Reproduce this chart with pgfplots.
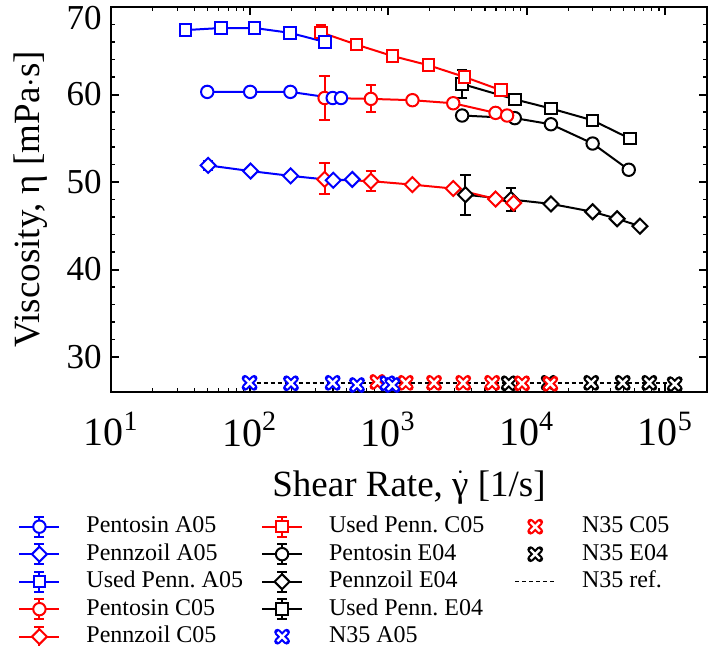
\documentclass[border=0pt]{standalone}
\usepackage{pgfplots}
\pgfplotsset{compat=1.18}
\usepackage{fontspec}
\setmainfont{Liberation Serif}
\frenchspacing

\pgfdeclareplotmark{fatx}{%
  \pgfscope
  \pgfsetroundcap
  \pgfsetlinewidth{3.3pt}%
  \pgfpathmoveto{\pgfqpoint{-0.5\pgfplotmarksize}{-0.5\pgfplotmarksize}}%
  \pgfpathlineto{\pgfqpoint{0.5\pgfplotmarksize}{0.5\pgfplotmarksize}}%
  \pgfpathmoveto{\pgfqpoint{-0.5\pgfplotmarksize}{0.5\pgfplotmarksize}}%
  \pgfpathlineto{\pgfqpoint{0.5\pgfplotmarksize}{-0.5\pgfplotmarksize}}%
  \pgfusepathqstroke
  \pgfsetbuttcap
  \pgfsetlinewidth{1.2pt}%
  \pgfsetstrokecolor{white}%
  \pgfpathmoveto{\pgfqpoint{-0.5\pgfplotmarksize}{-0.5\pgfplotmarksize}}%
  \pgfpathlineto{\pgfqpoint{0.5\pgfplotmarksize}{0.5\pgfplotmarksize}}%
  \pgfpathmoveto{\pgfqpoint{-0.5\pgfplotmarksize}{0.5\pgfplotmarksize}}%
  \pgfpathlineto{\pgfqpoint{0.5\pgfplotmarksize}{-0.5\pgfplotmarksize}}%
  \pgfusepathqstroke
  \endpgfscope
}

\pgfplotsset{
  ser/.style={color=#1, line width=1pt, mark options={solid, fill=white, line width=1pt}},
  circ/.style={mark=*, mark size=3.1pt},
  sqr/.style={mark=square*, mark size=2.9pt},
  dia/.style={mark=square*, mark size=2.65pt, mark options={solid, fill=white, line width=1pt, rotate=45}},
  errb/.style={color=#1, forget plot, only marks, mark=none, error bars/.cd, y dir=both, y explicit, error bar style={line width=1pt}, error mark=-, error mark options={rotate=90, line width=1pt, mark size=2.6pt}},
  nx/.style={color=#1, only marks, mark=fatx, mark size=4.6pt},
  errleg/.style={legend image code/.code={
      \draw[##1] (0pt,0pt) -- (20pt,0pt);
      \draw[##1] (10pt,-5pt) -- (10pt,5pt) (7.5pt,5pt) -- (12.5pt,5pt) (7.5pt,-5pt) -- (12.5pt,-5pt);
      \draw[##1] plot coordinates {(10pt,0pt)};
  }},
  nxleg/.style={legend image code/.code={\draw[##1] plot coordinates {(10pt,0pt)};}},
  lineleg/.style={legend image code/.code={\draw[##1] (0pt,0pt) -- (20pt,0pt);}},
}

\begin{document}
\begin{tikzpicture}
\begin{axis}[
  name=ax,
  scale only axis, width=298pt, height=192.5pt,
  xmode=log, xmin=10, xmax=2e5, ymin=26, ymax=70,
  xtick={10,100,1000,10000,100000},
  xticklabels={10\textsuperscript{1},10\textsuperscript{2},10\textsuperscript{3},10\textsuperscript{4},10\textsuperscript{5}},
  ytick={30,40,50,60,70},
  yticklabels={30,40,50,60,\raisebox{-11pt}[0pt][0pt]{70}},
  minor y tick num=4,
  xticklabel style={font=\fontsize{20}{24}\selectfont, inner sep=2pt, yshift=-8pt},
  yticklabel style={font=\fontsize{17.5}{21}\selectfont, inner sep=2pt, xshift=-2.5pt},
  axis line style={line width=1pt},
  major tick style={line width=1pt, black},
  minor tick style={line width=0.6pt, black},
  major tick length=4pt, minor tick length=2pt,
  xlabel={Shear Rate, \ensuremath{\dot{\mbox{γ}}} [1/s]},
  ylabel={Viscosity, η [mPa$\cdot$s]},
  every axis x label/.style={at={(axis description cs:0.5,-0.247)}, anchor=center, font=\fontsize{18.5}{22}\selectfont},
  every axis y label/.style={at={(axis description cs:-0.135,0.5)}, anchor=center, rotate=90, font=\fontsize{18.5}{22}\selectfont},
  legend columns=3,
  legend cell align=left,
  legend style={at={(axis description cs:-0.156,-0.313)}, anchor=north west, draw=none, fill=none, inner sep=0pt,
    font=\fontsize{12}{14}\selectfont,
    nodes={inner sep=1pt, text height=8.8pt, text depth=2.95pt},
    /tikz/every odd column/.append style={column sep=12pt},
    /tikz/every even column/.append style={column sep=8pt}},
]
% legend (row-wise order of a 5-row, column-filled legend)
\addlegendimage{ser=blue, circ, errleg} \addlegendentry{Pentosin A05}
\addlegendimage{ser=red, sqr, errleg} \addlegendentry{Used Penn. C05\hspace*{6pt}}
\addlegendimage{nx=red, nxleg} \addlegendentry{N35 C05}
\addlegendimage{ser=blue, dia, errleg} \addlegendentry{Pennzoil A05}
\addlegendimage{ser=black, circ, errleg} \addlegendentry{Pentosin E04}
\addlegendimage{nx=black, nxleg} \addlegendentry{N35 E04}
\addlegendimage{ser=blue, sqr, errleg} \addlegendentry{Used Penn. A05}
\addlegendimage{ser=black, dia, errleg} \addlegendentry{Pennzoil E04}
\addlegendimage{black, dash pattern=on 2pt off 1.5pt, line width=0.8pt, lineleg} \addlegendentry{N35 ref.}
\addlegendimage{ser=red, circ, errleg} \addlegendentry{Pentosin C05}
\addlegendimage{ser=black, sqr, errleg} \addlegendentry{Used Penn. E04}
\addlegendimage{empty legend} \addlegendentry{}
\addlegendimage{ser=red, dia, errleg} \addlegendentry{Pennzoil C05}
\addlegendimage{nx=blue, nxleg} \addlegendentry{N35 A05}

% N35 reference line
\addplot[black, dash pattern=on 2pt off 1.5pt, line width=0.8pt, forget plot] coordinates {(100,27.05) (117000,27.05)};

% E04 (black)
\addplot[errb=black] coordinates {(3420,61.2) +- (0,1.6) (3610,48.55) +- (0,2.3) (7700,48.0) +- (0,1.3)};
\addplot[ser=black, sqr, forget plot] coordinates {(3420,61.2) (8200,59.45) (14960,58.4) (29900,57.05) (55700,54.95)};
\addplot[ser=black, circ, forget plot] coordinates {(3420,57.6) (8200,57.3) (14960,56.6) (29900,54.4) (54500,51.4)};
\addplot[ser=black, dia, forget plot] coordinates {(3610,48.55) (7700,48.0) (14960,47.5) (29900,46.6) (44900,45.8) (65600,44.95)};

% C05 (red)
\addplot[errb=red] coordinates {(328,67.1) +- (0,0.9) (591,65.7) +- (0,0.35) (348,59.6) +- (0,2.5) (751,59.5) +- (0,1.55) (348,50.4) +- (0,1.75) (751,50.1) +- (0,1.15)};
\addplot[ser=red, sqr, forget plot] coordinates {(328,67.1) (591,65.7) (1074,64.4) (1950,63.35) (3565,62.0) (6500,60.5)};
\addplot[ser=red, circ, forget plot] coordinates {(348,59.6) (751,59.5) (1497,59.35) (2950,59.0) (5960,57.9) (7220,57.6)};
\addplot[ser=red, dia, forget plot] coordinates {(348,50.3) (751,50.1) (1497,49.7) (2950,49.25) (5960,48.05) (8050,47.6)};

% A05 (blue)
\addplot[errb=blue] coordinates {(50.2,51.9) +- (0,0.5)};
\addplot[ser=blue, sqr, forget plot] coordinates {(34.4,67.36) (62.2,67.6) (108.6,67.6) (195,67.05) (351,66.0)};
\addplot[ser=blue, circ, forget plot] coordinates {(49.5,60.3) (101,60.3) (197,60.3) (398,59.6) (457,59.6)};
\addplot[ser=blue, dia, forget plot] coordinates {(50.2,51.9) (101.6,51.25) (198,50.7) (402,50.2) (551,50.3)};

% N35 points
\addplot[nx=black, forget plot] coordinates {(7420,27.0) (14400,27.05) (29200,27.05) (49300,27.05) (76700,27.05) (117000,26.9)};
\addplot[nx=red, forget plot] coordinates {(837,27.15) (1340,27.05) (2144,27.05) (3483,27.05) (5627,27.05) (9250,27.0) (14800,26.95)};
\addplot[nx=blue, forget plot] coordinates {(100,27.05) (199,27.0) (398,27.05) (596,26.8) (988,27.0) (1072,26.8)};
\end{axis}
\pgfresetboundingbox
\path[use as bounding box] ([shift={(-55.5pt,-126.5pt)}]ax.south west) rectangle ([shift={(4pt,3.5pt)}]ax.north east);
\end{tikzpicture}
\end{document}
